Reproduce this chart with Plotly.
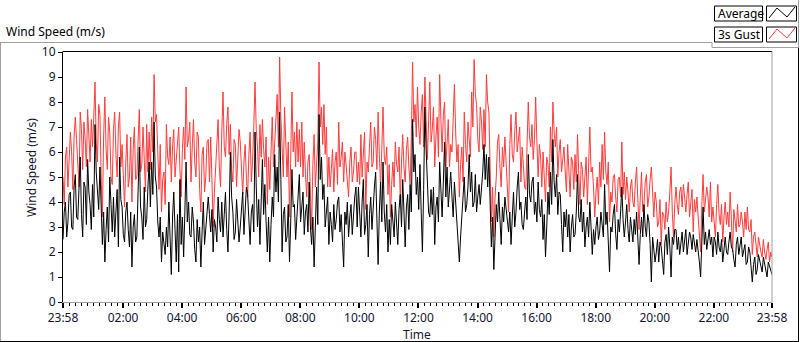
import pandas as pd
import plotly.graph_objects as go

# ---- data ----
# on-the-5-minute samples, one row per hour (last row also holds the 23:58 end sample)
gust_h = [
    [5.0, 5.8, 4.6, 6.8, 4.5, 7.4, 5.4, 7.6, 5.3, 6.5, 7.7, 5.6],
    [6.2, 8.8, 5.6, 7.5, 3.4, 8.2, 5.3, 6.8, 4.7, 7.6, 5.0, 7.6],
    [6.3, 3.8, 6.7, 5.0, 4.0, 7.0, 5.0, 7.7, 5.5, 5.8, 7.1, 6.8],
    [7.4, 9.1, 7.5, 4.5, 3.6, 5.2, 7.1, 5.5, 4.8, 6.9, 5.6, 7.0],
    [4.2, 7.0, 8.6, 6.5, 4.8, 7.3, 5.0, 6.6, 3.6, 6.2, 5.0, 6.5],
    [6.6, 3.0, 5.3, 7.3, 4.6, 8.4, 5.8, 7.8, 7.1, 4.8, 6.3, 5.8],
    [6.4, 4.3, 6.3, 4.2, 6.8, 5.6, 8.8, 6.2, 7.1, 7.3, 5.4, 3.9],
    [4.5, 7.4, 6.5, 8.3, 9.8, 6.2, 7.8, 5.0, 3.4, 8.4, 6.8, 7.2],
    [6.9, 7.2, 6.4, 4.2, 5.9, 2.9, 6.7, 5.6, 9.6, 7.8, 7.9, 7.0],
    [5.8, 5.3, 4.4, 6.0, 7.2, 5.8, 4.8, 5.5, 4.2, 6.2, 5.2, 6.0],
    [5.6, 6.7, 5.9, 3.7, 5.2, 7.2, 5.6, 6.5, 7.6, 4.6, 7.8, 5.5],
    [4.3, 3.4, 5.6, 6.4, 5.2, 4.0, 6.7, 4.8, 6.6, 4.7, 9.6, 7.9],
    [8.6, 6.3, 8.3, 9.0, 5.7, 8.8, 6.9, 5.4, 7.4, 9.1, 6.0, 8.0],
    [6.6, 5.4, 6.0, 8.7, 5.6, 4.2, 6.2, 7.6, 5.6, 6.4, 8.4, 9.7],
    [7.9, 6.0, 7.2, 7.7, 9.1, 7.6, 3.2, 2.6, 5.0, 6.7, 4.6, 5.4],
    [5.4, 3.6, 7.5, 5.6, 7.6, 6.5, 4.8, 5.5, 4.5, 8.0, 6.2, 5.7],
    [8.2, 5.0, 5.8, 6.0, 4.0, 5.5, 7.0, 8.0, 6.2, 5.0, 6.5, 5.6],
    [5.2, 6.3, 4.2, 5.6, 5.9, 6.7, 3.9, 5.3, 4.9, 3.9, 7.0, 5.4],
    [3.4, 5.0, 5.6, 6.3, 6.8, 4.7, 3.2, 4.0, 5.1, 3.6, 5.0, 6.4],
    [5.2, 5.0, 3.6, 4.9, 3.8, 5.4, 2.9, 5.2, 3.9, 5.1, 4.2, 5.4],
    [3.4, 4.0, 3.2, 2.3, 3.5, 4.0, 3.6, 5.4, 2.6, 4.6, 3.5, 4.6],
    [4.7, 3.6, 4.8, 3.9, 2.8, 3.6, 3.4, 2.0, 5.1, 4.0, 4.2, 4.8],
    [3.8, 2.6, 4.7, 3.1, 2.4, 4.0, 3.6, 4.4, 2.0, 3.2, 3.9, 3.1],
    [3.2, 3.6, 3.8, 2.8, 1.9, 2.8, 1.8, 2.2, 1.8, 2.0, 2.1, 1.6, 1.8],
]
# samples half-way between the 5-minute ones
gust_mid_h = [
    [3.9, 6.2, 5.9, 6.0, 6.6, 6.5, 4.6, 6.9, 7.2, 5.4, 6.6, 7.3],
    [7.4, 6.4, 7.9, 5.0, 6.6, 6.1, 7.4, 5.0, 6.9, 5.9, 7.0, 5.4],
    [5.1, 5.6, 4.6, 6.6, 6.1, 4.9, 6.4, 5.2, 7.0, 4.4, 5.2, 5.3],
    [6.0, 7.2, 5.8, 6.3, 4.9, 3.9, 5.8, 6.6, 6.2, 5.0, 6.5, 5.3],
    [6.1, 5.7, 6.2, 7.2, 6.2, 5.6, 6.8, 4.5, 5.9, 4.4, 6.4, 4.8],
    [4.9, 4.4, 6.5, 5.4, 6.8, 6.2, 7.1, 5.9, 5.3, 6.5, 4.6, 6.9],
    [5.5, 5.6, 5.0, 5.9, 4.8, 7.0, 6.9, 5.0, 5.8, 6.1, 6.6, 5.8],
    [6.0, 5.4, 7.6, 6.2, 7.4, 5.0, 6.5, 6.4, 5.8, 6.0, 5.4, 5.6],
    [5.4, 5.0, 5.1, 5.6, 4.4, 5.5, 4.6, 6.4, 7.0, 6.3, 5.9, 4.6],
    [4.6, 6.1, 5.6, 4.7, 5.4, 6.4, 6.0, 4.6, 5.6, 4.8, 6.0, 4.8],
    [4.7, 5.0, 6.8, 5.6, 6.3, 5.4, 7.0, 5.3, 5.9, 6.1, 5.8, 6.2],
    [5.5, 4.7, 4.6, 5.5, 6.2, 5.6, 5.4, 6.1, 5.4, 6.6, 7.2, 6.6],
    [7.0, 7.6, 6.2, 7.3, 7.2, 6.4, 7.8, 6.6, 5.8, 7.3, 7.5, 5.4],
    [7.3, 6.3, 7.2, 6.8, 6.3, 5.5, 4.8, 6.3, 7.2, 5.8, 7.0, 8.3],
    [6.5, 7.8, 6.1, 6.2, 8.0, 5.6, 4.6, 4.2, 6.4, 5.4, 6.2, 6.6],
    [4.6, 6.3, 5.9, 6.8, 6.0, 7.0, 6.2, 4.6, 6.2, 6.6, 7.1, 6.5],
    [6.4, 6.3, 4.6, 5.0, 5.8, 4.6, 5.6, 6.8, 7.0, 6.0, 5.2, 6.2],
    [4.4, 5.0, 5.8, 4.5, 4.8, 5.1, 5.6, 4.2, 5.8, 5.6, 5.2, 4.6],
    [4.4, 3.9, 4.6, 4.9, 5.2, 5.6, 4.4, 5.0, 4.2, 4.9, 4.2, 4.3],
    [4.1, 4.4, 4.6, 4.0, 4.8, 4.1, 4.2, 3.6, 4.8, 3.8, 4.9, 4.4],
    [4.4, 3.0, 4.1, 3.6, 2.9, 3.2, 4.4, 3.6, 3.9, 3.9, 4.4, 3.8],
    [4.2, 4.3, 3.4, 4.5, 4.1, 4.2, 2.7, 3.9, 3.6, 4.6, 3.4, 3.2],
    [3.3, 3.9, 3.5, 3.9, 3.4, 3.1, 3.0, 3.3, 3.7, 2.8, 3.0, 3.6],
    [2.6, 2.9, 2.9, 3.3, 2.6, 2.1, 2.6, 2.0, 2.5, 1.7, 2.4, 2.0],
]
avg_h = [
    [2.5, 4.0, 3.2, 4.4, 2.9, 5.1, 3.3, 5.8, 2.6, 4.6, 5.7, 3.9],
    [4.7, 7.1, 4.6, 5.4, 2.3, 1.6, 3.8, 5.0, 2.8, 2.6, 4.5, 5.8],
    [3.8, 2.4, 4.0, 2.2, 1.4, 3.5, 2.6, 6.2, 3.4, 4.6, 3.3, 5.6],
    [5.6, 7.2, 4.6, 2.6, 1.6, 2.4, 3.0, 4.0, 1.1, 4.4, 1.6, 1.2],
    [2.3, 1.8, 5.6, 4.0, 2.6, 3.2, 1.6, 2.4, 1.4, 4.0, 2.9, 4.2],
    [2.8, 2.0, 3.0, 4.2, 2.8, 2.6, 4.4, 2.0, 6.0, 3.6, 2.8, 3.1],
    [3.0, 4.4, 3.5, 4.3, 2.3, 3.9, 6.8, 3.0, 2.3, 5.7, 4.7, 2.0],
    [1.6, 4.2, 5.9, 5.4, 7.6, 2.0, 3.8, 2.6, 1.6, 5.3, 3.9, 3.3],
    [5.1, 3.7, 2.7, 3.9, 4.8, 2.3, 1.4, 4.6, 7.5, 5.8, 4.7, 3.6],
    [2.3, 3.1, 3.9, 3.3, 4.2, 3.5, 1.4, 3.1, 2.6, 3.9, 3.5, 4.6],
    [4.6, 2.6, 4.9, 3.1, 1.8, 4.2, 3.9, 5.2, 1.5, 4.8, 5.6, 2.8],
    [2.0, 2.3, 3.4, 4.0, 2.3, 4.3, 4.9, 2.2, 4.3, 4.7, 7.3, 5.9],
    [5.0, 5.5, 2.0, 7.8, 4.8, 3.4, 3.5, 2.3, 4.2, 5.6, 3.4, 6.4],
    [5.4, 4.4, 4.2, 4.8, 3.3, 1.6, 3.6, 5.0, 3.9, 5.9, 5.2, 4.0],
    [3.6, 4.7, 4.4, 6.3, 5.9, 5.8, 2.2, 1.3, 3.9, 4.4, 2.3, 3.2],
    [3.8, 2.8, 2.3, 4.4, 3.6, 5.2, 4.0, 2.9, 4.2, 5.9, 4.0, 5.0],
    [4.0, 4.8, 3.4, 2.5, 1.8, 4.4, 5.2, 6.5, 4.2, 3.5, 4.3, 2.0],
    [3.0, 2.6, 2.0, 3.5, 2.7, 5.1, 3.2, 2.8, 2.2, 3.4, 4.0, 1.9],
    [2.3, 3.4, 2.8, 3.2, 4.7, 3.6, 1.2, 2.8, 3.9, 2.1, 2.8, 4.6],
    [2.6, 3.9, 2.4, 3.0, 3.3, 3.6, 1.5, 3.4, 3.9, 2.6, 3.2, 0.8],
    [2.2, 2.0, 1.6, 2.2, 1.1, 2.7, 3.0, 1.0, 2.3, 2.9, 2.6, 2.5],
    [2.0, 2.9, 2.3, 2.6, 2.7, 2.0, 2.1, 1.0, 3.8, 2.8, 2.6, 2.3],
    [1.8, 2.4, 2.8, 2.0, 1.6, 2.6, 1.9, 2.8, 2.1, 1.4, 2.6, 2.2],
    [1.8, 2.3, 1.6, 2.0, 0.8, 1.8, 1.3, 1.7, 1.2, 1.5, 1.0, 1.4, 1.1],
]
avg_mid_h = [
    [3.6, 2.6, 4.3, 3.0, 4.6, 3.4, 4.9, 3.5, 4.8, 3.1, 4.4, 2.9],
    [3.4, 5.2, 3.7, 3.9, 3.6, 2.9, 2.4, 3.9, 4.2, 3.6, 2.2, 4.1],
    [2.7, 3.6, 2.9, 3.6, 3.0, 2.4, 4.4, 3.8, 2.5, 3.0, 4.6, 3.8],
    [4.3, 5.0, 3.2, 3.4, 2.8, 1.9, 2.2, 2.6, 3.4, 2.9, 3.5, 4.9],
    [3.4, 3.6, 3.2, 2.7, 3.8, 2.1, 3.3, 3.0, 2.8, 2.3, 3.8, 3.5],
    [3.7, 3.3, 2.4, 3.3, 4.0, 3.5, 2.9, 3.6, 4.2, 2.5, 4.1, 2.4],
    [3.8, 2.7, 4.6, 3.1, 3.6, 2.8, 4.6, 4.1, 4.0, 3.5, 3.2, 3.4],
    [3.1, 3.4, 4.4, 4.0, 4.9, 3.5, 2.4, 3.9, 3.2, 3.8, 2.5, 4.3],
    [3.2, 4.4, 3.6, 2.8, 3.0, 3.4, 3.2, 3.1, 4.9, 4.1, 3.0, 4.2],
    [3.6, 2.4, 2.9, 4.0, 2.8, 2.6, 3.6, 4.0, 3.4, 2.7, 4.2, 3.0],
    [3.3, 4.0, 2.7, 3.9, 3.5, 2.9, 4.6, 3.3, 3.6, 3.2, 3.6, 3.9],
    [3.3, 3.9, 2.6, 3.2, 3.7, 3.0, 3.6, 3.8, 2.9, 3.6, 5.2, 4.3],
    [3.7, 3.6, 4.5, 6.1, 3.6, 4.5, 4.6, 3.8, 3.2, 4.3, 4.8, 4.2],
    [3.8, 5.2, 3.4, 4.0, 2.4, 2.6, 4.4, 3.6, 4.6, 4.4, 3.8, 5.1],
    [4.2, 3.9, 5.2, 4.9, 4.6, 3.9, 3.4, 2.6, 3.2, 3.3, 3.8, 4.2],
    [3.3, 3.6, 3.4, 3.0, 4.6, 3.7, 3.1, 3.6, 3.3, 4.3, 4.8, 3.5],
    [3.2, 3.7, 4.1, 3.5, 3.0, 3.5, 3.9, 4.8, 5.1, 4.4, 3.1, 3.6],
    [3.7, 3.5, 3.0, 2.6, 3.6, 3.4, 4.1, 3.6, 3.0, 2.6, 3.0, 2.9],
    [3.0, 2.5, 3.6, 2.6, 3.1, 2.5, 3.0, 3.5, 2.7, 3.3, 3.6, 3.3],
    [3.2, 2.9, 3.4, 2.4, 2.7, 2.6, 2.7, 2.6, 3.0, 3.5, 2.3, 2.6],
    [1.6, 2.5, 2.4, 1.7, 2.4, 1.9, 2.2, 2.6, 2.9, 2.1, 1.9, 2.8],
    [2.5, 1.9, 2.8, 2.1, 2.3, 2.5, 1.6, 2.4, 2.3, 2.1, 2.9, 2.6],
    [2.6, 1.9, 2.2, 2.5, 2.2, 2.0, 2.4, 2.2, 1.7, 2.3, 1.9, 2.6],
    [2.1, 1.5, 2.2, 1.4, 1.5, 1.1, 1.9, 1.4, 1.8, 1.2, 1.6, 1.3],
]

start = "2024-01-01 23:58"
end = "2024-01-02 23:58"
tick_vals = [start] + [f"2024-01-02 {h:02d}:00" for h in range(2, 24, 2)] + [end]
tick_text = ["23:58", "02:00", "04:00", "06:00", "08:00", "10:00", "12:00",
             "14:00", "16:00", "18:00", "20:00", "22:00", "23:58"]


def merge(main_h, mid_h):
    out = []
    for row, mrow in zip(main_h, mid_h):
        for i in range(len(mrow)):
            out.append(row[i])
            out.append(mrow[i])
    out.append(main_h[-1][-1])
    return out


gust = merge(gust_h, gust_mid_h)
average = merge(avg_h, avg_mid_h)
times = pd.date_range(start, periods=len(gust), freq="150s")

# ---- figure ----
W, H = 800, 342
ML, MR, MT, MB = 63, 28, 52, 40
PW, PH = W - ML - MR, H - MT - MB
FONT = "Noto Sans, Open Sans, sans-serif"
TXT = "#141432"


def px(x):
    return (x - ML) / PW


def py(y):
    return (H - MB - y) / PH


fig = go.Figure()
fig.add_trace(go.Scatter(x=times, y=gust, mode="lines", name="3s Gust",
                         line=dict(color="#ff3b3b", width=1), showlegend=False))
fig.add_trace(go.Scatter(x=times, y=average, mode="lines", name="Average",
                         line=dict(color="#000000", width=1), showlegend=False))

shapes = []


def line(x0, y0, x1, y1, color, width=1):
    shapes.append(dict(type="line", xref="paper", yref="paper",
                       x0=px(x0), y0=py(y0), x1=px(x1), y1=py(y1),
                       line=dict(color=color, width=width), layer="above"))


# outer frame
line(0, 42.5, 712, 42.5, "#a0a0a0")
line(0.5, 42.5, 0.5, 342, "#a0a0a0")
line(0, 341.5, 799, 341.5, "#000000")
line(798.5, 47.5, 798.5, 342, "#000000")
line(712, 42.5, 712, 47.5, "#a0a0a0")
line(712, 47.5, 798.5, 47.5, "#a0a0a0")
line(798.5, 0, 798.5, 47.5, "#a0a0a0")
# plot frame top / right
line(62.5, 51.5, 772, 51.5, "#000000")
line(772, 51.5, 772, 302.5, "#a0a0a0")

# legend boxes
for (yt, lab, col) in [(6, "Average", "#000000"), (27, "3s Gust", "#ff3b3b")]:
    shapes.append(dict(type="rect", xref="paper", yref="paper",
                       x0=px(714.5), x1=px(762.5), y0=py(yt), y1=py(yt + 15),
                       line=dict(color="#000000", width=1), fillcolor="white", layer="above"))
    shapes.append(dict(type="rect", xref="paper", yref="paper",
                       x0=px(766.5), x1=px(796.5), y0=py(yt), y1=py(yt + 15),
                       line=dict(color="#000000", width=1), fillcolor="white", layer="above"))
    pts = [(769, yt + 12), (777, yt + 2), (787, yt + 11), (795, yt + 1)]
    path = "M " + " L ".join(f"{px(a)},{py(b)}" for a, b in pts)
    shapes.append(dict(type="path", xref="paper", yref="paper", path=path,
                       line=dict(color=col, width=1), layer="above"))

annotations = [
    dict(text="Wind Speed (m/s)", x=px(4), y=py(32), xref="paper", yref="paper",
         xanchor="left", yanchor="middle", showarrow=False,
         font=dict(family=FONT, size=12, color="#000000")),
    dict(text="Wind Speed (m/s)", x=px(31), y=py(168), xref="paper", yref="paper",
         xanchor="center", yanchor="middle", textangle=-90, showarrow=False,
         font=dict(family=FONT, size=12, color=TXT)),
    dict(text="Time", x=px(417), y=py(334), xref="paper", yref="paper",
         xanchor="center", yanchor="middle", showarrow=False,
         font=dict(family=FONT, size=12, color=TXT)),
    dict(text="Average", x=px(716), y=py(13.5), xref="paper", yref="paper",
         xanchor="left", yanchor="middle", showarrow=False,
         font=dict(family=FONT, size=12, color="#000000")),
    dict(text="3s Gust", x=px(716), y=py(34.5), xref="paper", yref="paper",
         xanchor="left", yanchor="middle", showarrow=False,
         font=dict(family=FONT, size=12, color="#000000")),
]

fig.update_layout(
    width=W, height=H,
    margin=dict(l=ML, r=MR, t=MT, b=MB, pad=0),
    paper_bgcolor="white", plot_bgcolor="white",
    font=dict(family=FONT, size=12, color=TXT),
    shapes=shapes, annotations=annotations,
    showlegend=False,
    xaxis=dict(
        range=[start, end], type="date",
        tickmode="array", tickvals=tick_vals, ticktext=tick_text,
        ticks="outside", ticklen=5, tickwidth=2, tickcolor="#000000",
        showline=True, linecolor="#a0a0a0", linewidth=1,
        showgrid=False, zeroline=False,
        tickfont=dict(family=FONT, size=12, color=TXT),
        minor=dict(ticks="outside", ticklen=3, tickwidth=1, tickcolor="#000000",
                   dtick=12 * 60 * 1000, tick0="2024-01-02 02:00", showgrid=False),
    ),
    yaxis=dict(
        range=[0, 10], dtick=1, tick0=0,
        ticks="outside", ticklen=4, tickwidth=1, tickcolor="#000000",
        showline=True, linecolor="#000000", linewidth=1,
        showgrid=False, zeroline=False,
        tickfont=dict(family=FONT, size=12, color=TXT),
    ),
)

fig.write_html(
    "out.html",
    config={"displayModeBar": False},
    post_script="document.body.style.margin='0';document.body.style.padding='0';"
                "document.body.style.overflow='hidden';",
)
